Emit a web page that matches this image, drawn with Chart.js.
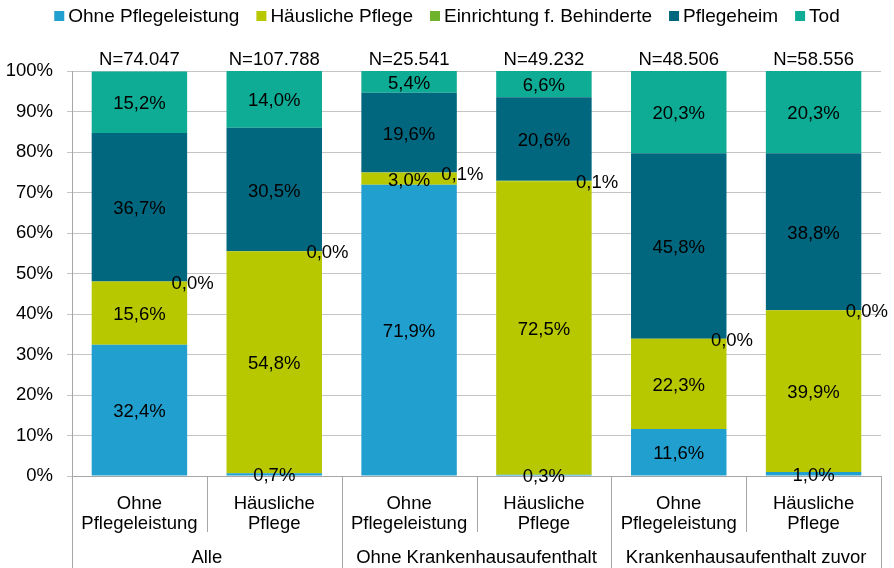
<!DOCTYPE html>
<html><head><meta charset="utf-8">
<script src="https://cdn.jsdelivr.net/npm/chart.js@4/dist/chart.umd.min.js"></script>
<style>html,body{margin:0;padding:0;background:#fff;}#wrap{width:894px;height:568px;}</style>
</head><body><div id="wrap"><canvas id="c" width="894" height="568"></canvas></div>
<script>
const categories = [['Ohne','Pflegeleistung'],['Häusliche','Pflege'],['Ohne','Pflegeleistung'],['Häusliche','Pflege'],['Ohne','Pflegeleistung'],['Häusliche','Pflege']];
const groups = ['Alle','Ohne Krankenhausaufenthalt','Krankenhausaufenthalt zuvor'];
const nLabels = ['N=74.047','N=107.788','N=25.541','N=49.232','N=48.506','N=58.556'];
const seriesNames = ['Ohne Pflegeleistung','Häusliche Pflege','Einrichtung f. Behinderte','Pflegeheim','Tod'];
const seriesColors = ['#21a0cf','#b7c800','#6fb22c','#00677f','#0eab95'];
const ohnePflege  = [32.4, 0.7, 71.9, 0.3, 11.6, 1.0];
const haeuslich   = [15.6, 54.8, 3.0, 72.5, 22.3, 39.9];
const einrichtung = [0.0, 0.0, 0.1, 0.1, 0.0, 0.0];
const pflegeheim  = [36.7, 30.5, 19.6, 20.6, 45.8, 38.8];
const tod         = [15.2, 14.0, 5.4, 6.6, 20.3, 20.3];
const seriesValues = [ohnePflege, haeuslich, einrichtung, pflegeheim, tod];

const FONT = "'Liberation Sans', Arial, sans-serif";
const FS = 18.5;
const fmt = v => v.toFixed(1).replace('.', ',') + '%';

const overlay = {
  id: 'overlay',
  afterDatasetsDraw(chart) {
    const ctx = chart.ctx;
    ctx.save();
    ctx.font = FS + 'px ' + FONT;
    ctx.fillStyle = '#000';
    ctx.textAlign = 'center';
    ctx.textBaseline = 'middle';
    chart.data.datasets.forEach((ds, di) => {
      const meta = chart.getDatasetMeta(di);
      meta.data.forEach((el, i) => {
        const p = el.getProps(['x','y','base','width'], true);
        const top = Math.max(p.y, chart.chartArea.top);
        const cy = (top + p.base) / 2 + 2;
        let cx = p.x;
        if (di === 2) cx = p.x + p.width / 2 + 5.5;
        ctx.fillText(fmt(ds.data[i]), cx, cy);
      });
    });
    ctx.restore();
  },
  afterDraw(chart) {
    const ctx = chart.ctx;
    const ca = chart.chartArea;
    const xs = chart.scales.x;
    ctx.save();
    ctx.font = FS + 'px ' + FONT;
    ctx.fillStyle = '#000';
    ctx.textAlign = 'center';
    ctx.textBaseline = 'alphabetic';
    nLabels.forEach((t, i) => ctx.fillText(t, xs.getPixelForValue(i), 65));
    const n = categories.length;
    const cw = (ca.right - ca.left) / n;
    ctx.strokeStyle = '#a6a6a6';
    ctx.lineWidth = 1;
    for (let k = 0; k <= n; k++) {
      const x = Math.round(ca.left + k * cw) + 0.5;
      const yEnd = (k % 2 === 0) ? 568 : 532;
      ctx.beginPath(); ctx.moveTo(x, ca.bottom); ctx.lineTo(x, yEnd); ctx.stroke();
    }
    groups.forEach((g, gi) => {
      const cx = ca.left + (gi * 2 + 1) * cw;
      ctx.fillText(g, cx, 563);
    });
    // legend
    ctx.font = '19px ' + FONT;
    const items = seriesNames.map((s, i) => ({ s, c: seriesColors[i], w: ctx.measureText(s).width }));
    const box = 10, gapBT = 4, gapItem = 17;
    const total = items.reduce((a, it) => a + box + gapBT + it.w, 0) + gapItem * (items.length - 1);
    let x = (chart.width - total) / 2;
    ctx.textAlign = 'left';
    items.forEach(it => {
      ctx.fillStyle = it.c;
      ctx.fillRect(x, 11, box, box);
      ctx.fillStyle = '#000';
      ctx.fillText(it.s, x + box + gapBT, 21.5);
      x += box + gapBT + it.w + gapItem;
    });
    ctx.restore();
  }
};

new Chart(document.getElementById('c'), {
  type: 'bar',
  data: {
    labels: categories,
    datasets: seriesNames.map((name, i) => ({
      label: name,
      data: seriesValues[i],
      backgroundColor: seriesColors[i],
      borderWidth: 0,
      barPercentage: 0.708,
      categoryPercentage: 1.0
    }))
  },
  options: {
    responsive: false,
    animation: false,
    devicePixelRatio: 1,
    layout: { padding: { top: 71, right: 13, left: 0, bottom: 0 } },
    plugins: { legend: { display: false }, tooltip: { enabled: false } },
    scales: {
      x: {
        stacked: true,
        grid: { display: false },
        border: { display: true, color: '#a6a6a6' },
        ticks: { color: '#000', font: { family: FONT, size: FS, lineHeight: 1.08 }, padding: 10, maxRotation: 0, autoSkip: false },
        afterFit: s => { s.height = 92; }
      },
      y: {
        stacked: true, min: 0, max: 100,
        grid: { color: '#c4c4c4', tickLength: 5 },
        border: { color: '#a6a6a6' },
        ticks: { stepSize: 10, color: '#000', font: { family: FONT, size: FS }, padding: 14, callback: v => v + '%' },
        afterFit: s => { s.width = 72; }
      }
    }
  },
  plugins: [overlay]
});
</script></body></html>
